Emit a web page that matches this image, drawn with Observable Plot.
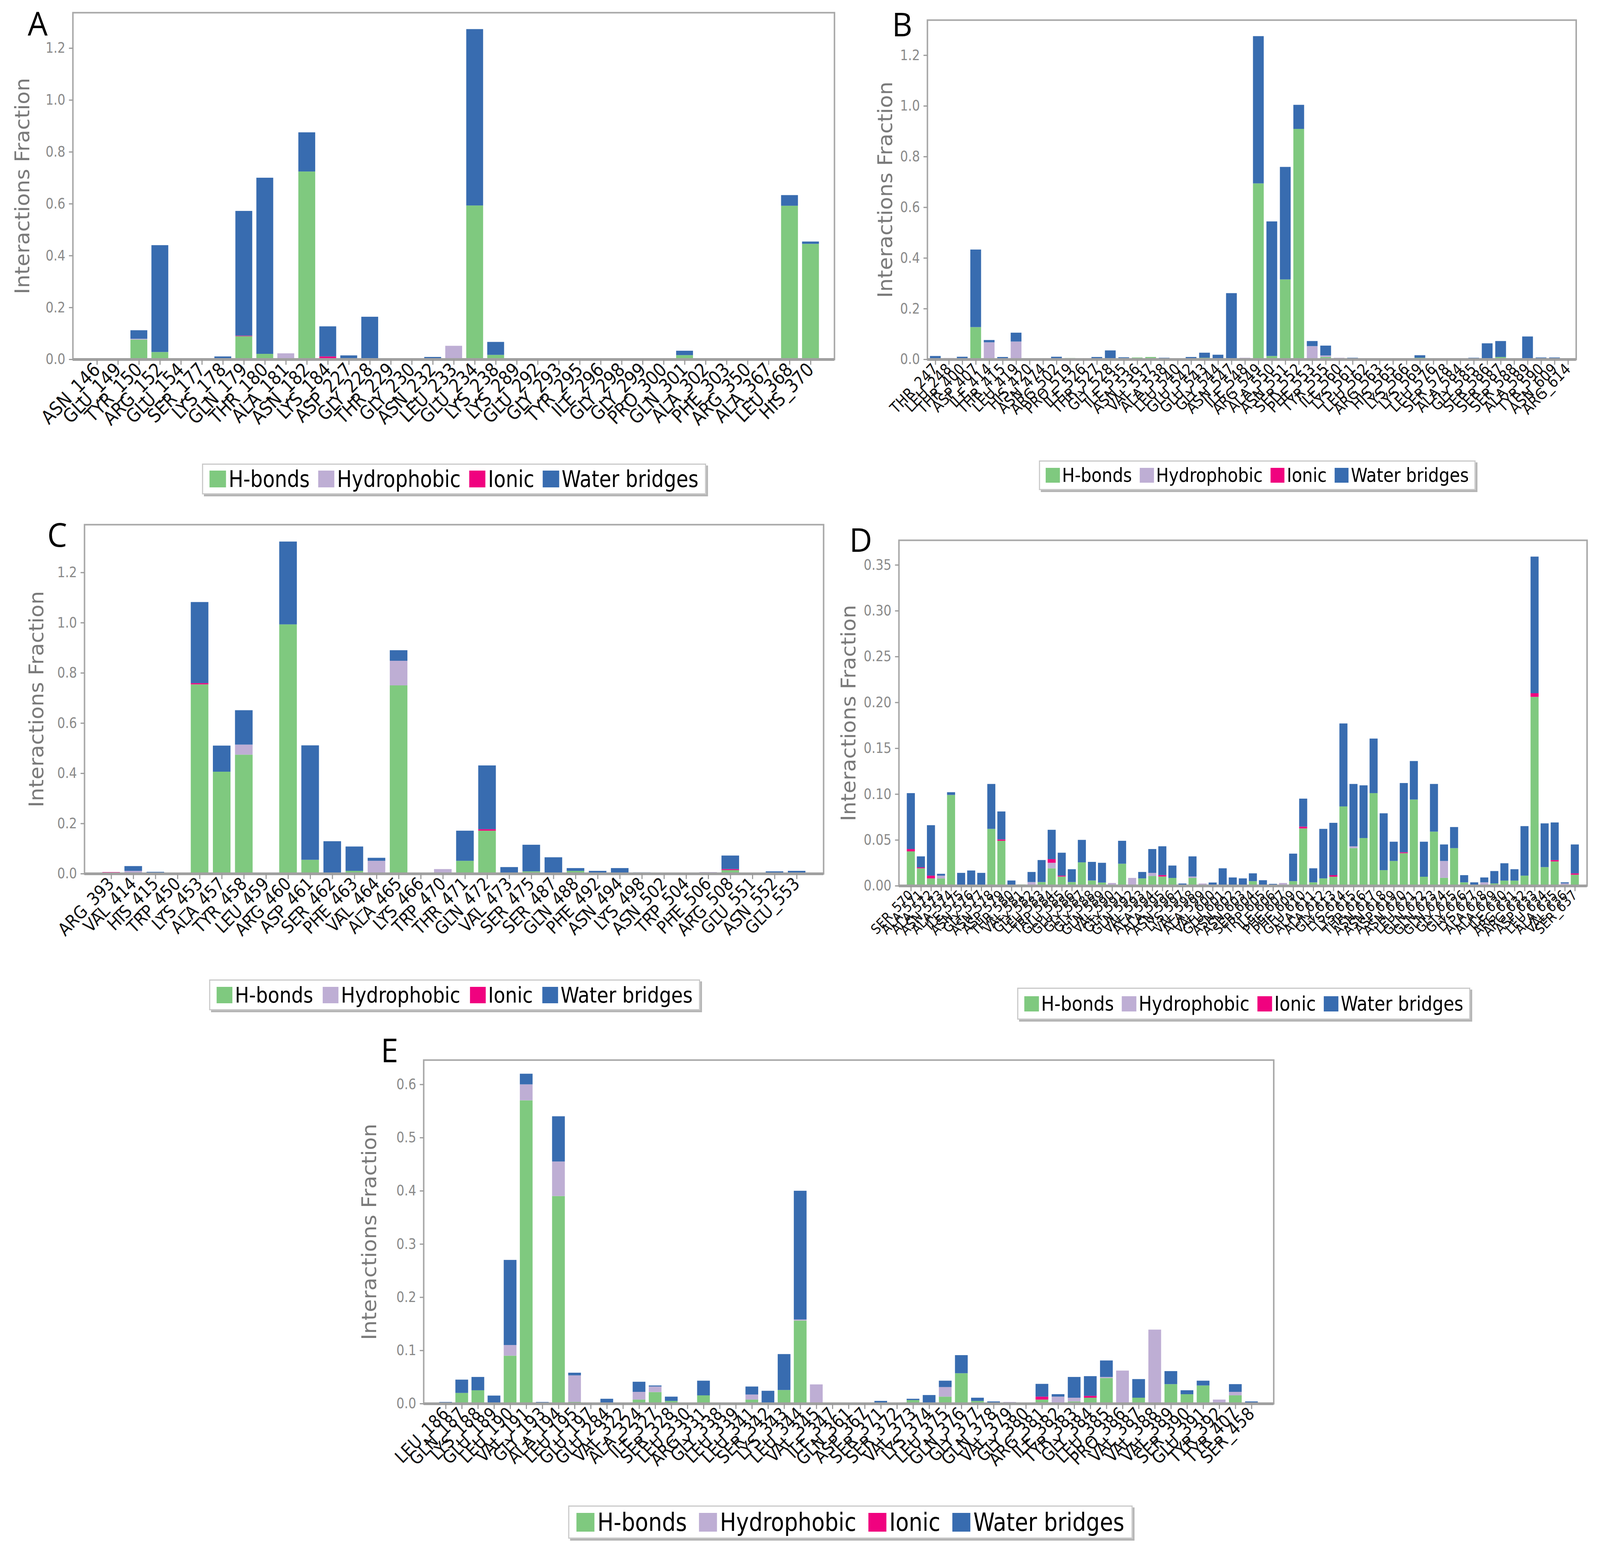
<!DOCTYPE html>
<html>
<head>
<meta charset="utf-8">
<script src="https://cdn.jsdelivr.net/npm/d3@7"></script>
<script src="https://cdn.jsdelivr.net/npm/@observablehq/plot@0.6"></script>
<style>
  html, body { margin: 0; padding: 0; background: #fff; overflow: hidden; }
  #page { position: relative; width: 4269px; height: 3969px; overflow: hidden; background: #fff; transform-origin: 0 0; }
  .panel { position: absolute; }
  .panel svg { max-width: none; overflow: visible; background: transparent; }
  .letter { position: absolute; font-family: "Open Sans", "Liberation Sans", sans-serif; font-size: 84px; line-height: 1.4; color: #000; }
  .legend { position: absolute; box-sizing: border-box; display: flex; align-items: center; justify-content: space-between;
            padding: 0 0.3em; border: 3px solid #c9c9c9; box-shadow: 5px 5px 0 #b5b5b5; background: #fff;
            font-family: "Liberation Sans Narrow", "DejaVu Sans Condensed", "DejaVu Sans", sans-serif; font-stretch: condensed; color: #000; }
  .legend .item { display: flex; align-items: center; white-space: nowrap; }
  .legend .sw { display: inline-block; width: 0.75em; height: 0.75em; margin-right: 0.12em; }
</style>
</head>
<body>
<div id="page"></div>
<script>
const types = ["H-bonds", "Hydrophobic", "Ionic", "Water bridges"];
const typeColors = ["#7fc97f", "#beaed4", "#f0027f", "#386cb0"];

// ---- panel A
const residuesA = ["ASN_146","GLU_149","TYR_150","ARG_152","GLU_154","SER_177","LYS_178","GLN_179","THR_180","ALA_181",
  "ASN_182","LYS_184","ASP_227","GLY_228","THR_229","GLY_230","ASN_232","LEU_233","GLU_234","LYS_238",
  "LYS_289","GLU_292","GLY_293","TYR_295","ILE_296","GLY_298","GLY_299","PRO_300","GLN_301","ALA_302",
  "PHE_303","ARG_350","ALA_367","LEU_368","HIS_370"];
const hbondsA = [0,0,0.076,0.028,0,0,0,0.089,0.021,0, 0.724,0,0.002,0,0,0,0,0,0.593,0.017,
  0,0,0,0,0,0,0,0.003,0.016,0.003, 0,0,0,0.592,0.445];
const hydrophobicA = [0,0,0.003,0,0,0,0,0,0,0.023, 0,0,0,0,0,0,0,0.052,0,0,
  0,0,0,0,0,0,0,0,0,0, 0,0,0,0,0];
const ionicA = [0,0,0,0,0,0,0,0.002,0,0, 0,0.011,0,0,0,0,0,0,0,0,
  0,0,0,0,0,0,0,0,0,0, 0,0,0,0,0];
const waterA = [0.003,0.003,0.033,0.412,0.004,0.004,0.011,0.481,0.679,0, 0.151,0.116,0.013,0.164,0,0.003,0.009,0,0.68,0.05,
  0.003,0.003,0.003,0,0,0,0.003,0,0.017,0, 0.002,0,0.002,0.041,0.009];

// ---- panel B
const residuesB = ["THR_247","LEU_248","THR_400","ASP_407","ILE_414","THR_415","LEU_419","HIS_420","ASN_474","ARG_502",
  "PRO_519","ILE_526","THR_527","GLY_528","ILE_535","ASN_536","VAL_537","ALA_538","LEU_540","GLU_542",
  "GLU_543","GLY_544","ASN_547","ILE_548","ARG_549","ALA_550","ASN_551","SER_552","PHE_553","TYR_555",
  "ILE_560","LYS_561","LEU_562","ARG_563","HIS_565","LYS_566","LYS_569","LEU_576","SER_578","ALA_584",
  "GLY_585","SER_586","SER_587","SER_588","ALA_589","TYR_590","ASN_609","ARG_614"];
const hbondsB = [0,0,0.004,0.127,0,0,0,0,0,0, 0.005,0,0,0,0.005,0.007,0.009,0,0,0,
  0.006,0,0.004,0,0.694,0.013,0.315,0.909,0.004,0.009, 0,0,0,0,0.002,0,0.006,0,0,0,
  0,0.004,0.009,0,0,0,0,0];
const hydrophobicB = [0,0.005,0,0,0.067,0,0.07,0,0,0, 0,0,0,0,0,0,0,0,0,0,
  0,0,0,0.006,0,0,0,0,0.048,0.006, 0.006,0,0,0,0,0,0,0.004,0,0,
  0,0,0,0,0,0,0,0];
const ionicB = [0,0,0,0,0,0,0,0,0,0, 0,0,0,0,0,0,0,0,0,0,
  0,0,0,0,0,0,0,0,0,0, 0,0,0,0,0,0,0,0,0,0,
  0,0,0,0,0,0,0,0];
const waterB = [0.013,0,0.006,0.306,0.009,0.009,0.035,0,0,0.01, 0,0.004,0.009,0.035,0.003,0,0,0.006,0,0.009,
  0.02,0.018,0.257,0,0.581,0.531,0.444,0.095,0.02,0.039, 0,0.006,0.003,0.003,0.002,0.003,0.01,0,0.004,0.004,
  0.006,0.059,0.063,0.004,0.09,0.007,0.007,0.004];

// ---- panel C
const residuesC = ["ARG_393","VAL_414","HIS_415","TRP_450","LYS_453","ALA_457","TYR_458","LEU_459","ARG_460","ASP_461",
  "SER_462","PHE_463","VAL_464","ALA_465","LYS_466","TRP_470","THR_471","GLN_472","VAL_473","SER_475",
  "SER_487","GLN_488","PHE_492","ASN_494","LYS_498","ASN_502","TRP_504","PHE_506","ARG_508","GLU_551",
  "ASN_552","GLU_553"];
const hbondsC = [0,0.003,0,0,0.754,0.406,0.474,0,0.993,0.055, 0.004,0.011,0,0.75,0,0,0.051,0.171,0.002,0.009,
  0.004,0.011,0.002,0.004,0,0,0,0,0.014,0, 0,0.003];
const hydrophobicC = [0,0.008,0,0.004,0,0,0.04,0,0,0, 0,0,0.051,0.098,0,0.018,0,0,0,0,
  0,0,0,0,0,0,0,0.006,0,0, 0,0];
const ionicC = [0.006,0,0,0,0.005,0,0,0,0,0, 0,0,0,0,0,0,0,0.006,0,0,
  0,0,0,0,0,0,0,0,0.004,0, 0,0];
const waterC = [0,0.019,0.007,0,0.323,0.104,0.137,0.004,0.33,0.456, 0.125,0.097,0.012,0.042,0.004,0,0.12,0.254,0.024,0.106,
  0.061,0.011,0.009,0.018,0.005,0.003,0,0,0.054,0.003, 0.009,0.008];

// ---- panel D
const residuesD = ["SER_570","ALA_571","ALA_572","ASN_573","ALA_574","ILE_575","ASN_576","GLY_577","ASN_578","ASP_579",
  "THR_580","VAL_581","GLY_582","LEU_583","TRP_584","GLU_585","GLU_586","GLY_587","GLY_588","GLN_589",
  "VAL_590","GLY_591","GLN_592","VAL_593","ALA_594","ALA_595","ASN_596","LYS_597","VAL_598","ALA_599",
  "VAL_600","GLU_601","ASN_602","ASN_603","SER_604","TRP_605","ILE_606","PHE_607","PHE_609","GLU_610",
  "ALA_611","ALA_612","GLY_613","LYS_614","LYS_615","THR_616","ASN_617","ASN_618","ASP_619","ASN_620",
  "LEU_621","GLN_622","GLN_623","GLN_624","GLY_625","GLY_626","LYS_627","ALA_628","ALA_629","ILE_630",
  "ARG_631","ARG_632","ASP_633","LEU_634","ALA_635","VAL_636","SER_637"];
const hbondsD = [0.0375,0.019,0.008,0.008,0.099,0,0.001,0,0.062,0.049,
  0,0.0014,0,0.004,0.019,0.01,0.004,0.0255,0.0057,0.0035,
  0,0.024,0,0.008,0.0106,0.01,0.0085,0,0.0085,0,
  0,0,0,0.001,0.005,0,0,0,0.005,0.0625,
  0.0037,0.008,0.0098,0.0865,0.041,0.052,0.101,0.017,0.027,0.0355,
  0.094,0.0098,0.059,0.0086,0.041,0.0037,0.001,0,0.0025,0.0056,
  0.0056,0.011,0.206,0.0203,0.0265,0,0.012];
const hydrophobicD = [0,0,0,0.003,0,0,0,0,0,0,
  0,0,0.004,0,0.006,0,0,0,0,0,
  0.003,0,0.0085,0,0.0034,0,0,0,0.0015,0.0024,
  0,0,0,0,0,0,0,0.003,0,0,
  0,0,0,0,0.002,0,0,0,0,0,
  0,0,0,0.0184,0,0,0,0.0037,0,0,
  0,0,0,0,0,0.0025,0];
const ionicD = [0.0025,0.001,0.003,0,0,0,0,0,0,0.0015,
  0,0,0,0,0.004,0.001,0,0,0,0,
  0,0,0,0,0,0.0016,0,0,0,0,
  0,0,0,0,0,0,0,0,0,0.002,
  0,0,0.0017,0,0,0,0,0,0,0.001,
  0,0,0,0,0,0,0,0,0,0,
  0,0,0.004,0,0.0015,0,0.0015];
const waterD = [0.061,0.012,0.055,0.002,0.003,0.014,0.0156,0.014,0.049,0.0305,
  0.0057,0,0.011,0.024,0.032,0.025,0.014,0.0245,0.0203,0.0215,
  0,0.025,0,0.007,0.026,0.0314,0.0135,0.0024,0.022,0,
  0.0035,0.019,0.009,0.007,0.0085,0.006,0.002,0,0.03,0.0305,
  0.0153,0.054,0.0571,0.0905,0.068,0.0575,0.0595,0.062,0.021,0.0755,
  0.042,0.0382,0.052,0.018,0.023,0.0078,0.0027,0.0053,0.0135,0.0189,
  0.0124,0.054,0.149,0.0477,0.041,0.0012,0.0315];

// ---- panel E
const residuesE = ["LEU_186","GLN_187","LYS_188","GLU_189","LEU_190","VAL_191","GLY_193","ALA_194","LEU_195","GLU_197",
  "GLU_284","VAL_322","ALA_324","ILE_327","SER_328","LEU_330","ARG_331","GLY_338","LEU_339","LEU_341",
  "SER_342","LYS_343","LEU_344","VAL_345","ILE_347","GLN_361","ASP_367","SER_371","SER_372","VAL_373",
  "LYS_374","LEU_375","GLN_376","GLY_377","GLN_378","VAL_379","GLY_380","ARG_381","ILE_382","TYR_383",
  "GLY_384","LEU_385","PRO_386","VAL_387","VAL_388","VAL_389","SER_390","GLU_391","TYR_392","TYR_407",
  "SER_458"];
const hbondsE = [0,0.02,0.025,0,0.09,0.57,0,0.39,0.003,0.002, 0,0,0.0075,0.0216,0.005,0,0.0154,0,0,0.0075,
  0.001,0.0255,0.156,0,0,0,0,0,0,0.0066, 0.001,0.013,0.057,0.005,0,0,0,0.0075,0,0.004,
  0.011,0.048,0,0.011,0,0.0365,0.0176,0.034,0,0.0154, 0];
const hydrophobicE = [0,0,0,0,0.02,0.03,0,0.065,0.05,0, 0,0,0.0145,0.0104,0,0,0,0,0,0.0095,
  0,0,0.002,0.036,0,0,0.002,0,0,0, 0,0.018,0,0,0,0.003,0,0,0.013,0.007,
  0,0.002,0.062,0,0.139,0,0,0,0.0075,0.0066, 0];
const ionicE = [0,0,0,0,0,0,0,0,0,0, 0,0,0,0,0,0,0,0,0,0,
  0,0,0,0,0,0,0,0,0,0, 0,0,0,0,0,0,0,0.0055,0,0,
  0.0035,0,0,0,0,0,0,0,0,0, 0];
const waterE = [0.003,0.025,0.025,0.015,0.16,0.02,0.003,0.085,0.005,0, 0.009,0.002,0.019,0.002,0.008,0.002,0.0276,0.002,0.002,0.015,
  0.023,0.0675,0.242,0,0.002,0.002,0,0.005,0.002,0.0024, 0.015,0.012,0.034,0.006,0.004,0,0.002,0.024,0.0046,0.039,
  0.037,0.031,0,0.035,0,0.0245,0.0074,0.009,0,0.0145, 0.004];

// y tick values
const ticksABC = [0, 0.2, 0.4, 0.6, 0.8, 1.0, 1.2];
const ticksD = [0, 0.05, 0.10, 0.15, 0.20, 0.25, 0.30, 0.35];
const ticksE = [0, 0.1, 0.2, 0.3, 0.4, 0.5, 0.6];

function toRows(residues, series) {
  const out = [];
  residues.forEach((r, i) => {
    series.forEach((s, k) => out.push({residue: r, type: types[k], value: s[i]}));
  });
  return out;
}

// layout: frame [left, top, right, bottom], y-title centre x, letter pos, legend [x, y, w, h, fontSize]
const panels = [
  {name: "A", residues: residuesA, series: [hbondsA, hydrophobicA, ionicA, waterA],
   frame: [194, 32, 2226, 920], ymax: 1.337, ticks: ticksABC, fmt: ".1f", padOuter: 0.58,
   xFont: 49, titleX: 60, letter: [74, 0], legend: [539, 1187, 1345, 79, 58]},
  {name: "B", residues: residuesB, series: [hbondsB, hydrophobicB, ionicB, waterB],
   frame: [2474, 51, 4205, 920], ymax: 1.339, ticks: ticksABC, fmt: ".1f", padOuter: 0.2,
   xFont: 40, titleX: 2363, letter: [2380, 2], legend: [2772, 1179, 1165, 76, 50]},
  {name: "C", residues: residuesC, series: [hbondsC, hydrophobicC, ionicC, waterC],
   frame: [225, 1343, 2197, 2237], ymax: 1.391, ticks: ticksABC, fmt: ".1f", padOuter: 0.59,
   xFont: 46, titleX: 98, letter: [126, 1309], legend: [558, 2508, 1310, 79, 56]},
  {name: "D", residues: residuesD, series: [hbondsD, hydrophobicD, ionicD, waterD],
   frame: [2398, 1383, 4234, 2268], ymax: 0.377, ticks: ticksD, fmt: ".2f", padOuter: 0.8,
   xFont: 36, titleX: 2265, letter: [2266, 1322], legend: [2714, 2529, 1209, 82, 52]},
  {name: "E", residues: residuesE, series: [hbondsE, hydrophobicE, ionicE, waterE],
   frame: [1130, 2714, 3398, 3594], ymax: 0.646, ticks: ticksE, fmt: ".1f", padOuter: 0.8,
   xFont: 46, titleX: 986, letter: [1016, 2629], legend: [1516, 3855, 1506, 85, 64]}
];

const page = document.getElementById("page");
const mL = 200, mR = 20, mT = 10, mB = 320;

for (const p of panels) {
  const [fl, ft, fr, fb] = p.frame;
  const chart = Plot.plot({
    width: mL + (fr - fl) + mR,
    height: mT + (fb - ft) + mB,
    marginLeft: mL, marginRight: mR, marginTop: mT, marginBottom: mB,
    style: {fontFamily: "'DejaVu Sans Condensed', 'DejaVu Sans', sans-serif", background: "transparent", overflow: "visible"},
    x: {domain: p.residues, paddingInner: 0.2, paddingOuter: p.padOuter, label: null},
    y: {domain: [0, p.ymax], label: null},
    color: {domain: types, range: typeColors},
    marks: [
      Plot.barY(toRows(p.residues, p.series), {x: "residue", y: "value", fill: "type", order: types}),
      Plot.frame({stroke: "#a8a8a8", strokeWidth: 4}),
      Plot.ruleY([0], {stroke: "#a0a0a0", strokeWidth: 7}),
      Plot.axisX({tickRotate: -45, fontSize: p.xFont, tickSize: 14, tickPadding: 4, stroke: "#999", strokeWidth: 3,
                  fill: "#111", label: null, fontFamily: "'DejaVu Sans Condensed', 'DejaVu Sans', sans-serif"}),
      Plot.axisY({ticks: p.ticks, tickFormat: d3.format(p.fmt), fontSize: 37, tickSize: 10, tickPadding: 10,
                  stroke: "#999", strokeWidth: 3, fill: "#8a8a8a", label: null,
                  fontFamily: "'Liberation Sans Narrow', 'DejaVu Sans Condensed', sans-serif"}),
      Plot.text(["Interactions Fraction"], {text: d => d, frameAnchor: "left", dx: -(fl - p.titleX), rotate: -90,
                  textAnchor: "middle", lineAnchor: "middle", fontSize: 54, fill: "#7a7a7a",
                  fontFamily: "'DejaVu Sans', sans-serif"})
    ]
  });
  const box = document.createElement("div");
  box.className = "panel";
  box.style.left = (fl - mL) + "px";
  box.style.top = (ft - mT) + "px";
  box.appendChild(chart);
  page.appendChild(box);

  const letter = document.createElement("div");
  letter.className = "letter";
  letter.textContent = p.name;
  letter.style.left = p.letter[0] + "px";
  letter.style.top = p.letter[1] + "px";
  page.appendChild(letter);

  const [lx, ly, lw, lh, lfs] = p.legend;
  const legend = document.createElement("div");
  legend.className = "legend";
  Object.assign(legend.style, {left: lx + "px", top: ly + "px", width: lw + "px", height: lh + "px", fontSize: lfs + "px"});
  types.forEach((t, k) => {
    const item = document.createElement("span");
    item.className = "item";
    const sw = document.createElement("span");
    sw.className = "sw";
    sw.style.background = typeColors[k];
    item.appendChild(sw);
    item.appendChild(document.createTextNode(t));
    legend.appendChild(item);
  });
  page.appendChild(legend);
}

// stretch the 4269x3969 sheet to exactly fill the window
function fit() {
  const sx = window.innerWidth / 4269, sy = window.innerHeight / 3969;
  page.style.transform = (Math.abs(sx - 1) < 1e-3 && Math.abs(sy - 1) < 1e-3) ? "none" : `scale(${sx}, ${sy})`;
}
fit();
window.addEventListener("resize", fit);
</script>
</body>
</html>
